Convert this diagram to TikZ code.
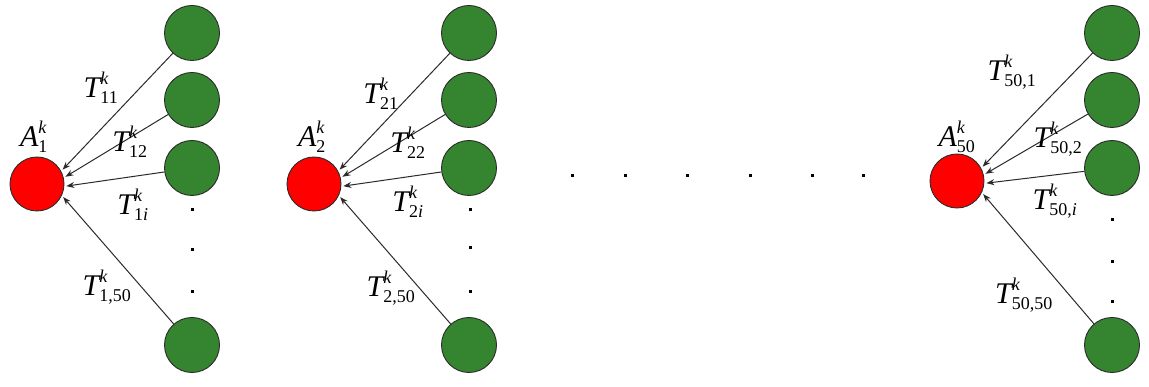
\documentclass[tikz,border=0pt]{standalone}
\usepackage{amsmath}
\usepackage{fontspec}
\setmainfont{Liberation Serif}
\usetikzlibrary{arrows.meta}
\DeclareMathSizes{30}{30}{18}{14}
\definecolor{redc}{HTML}{FF0000}
\definecolor{greenc}{HTML}{358530}
\definecolor{edgec}{HTML}{2B2B2B}
\newcommand{\tlab}[1]{$\textit{T}^{\textit{k}}_{\text{#1}}$}
\newcommand{\alab}[1]{$\textit{A}^{\textit{k}}_{\text{#1}}$}
\tikzset{
  ar/.style={-{Stealth[length=8pt,width=6pt]},edgec,line width=1pt,shorten >=2pt},
  rnd/.style={circle,draw=edgec,fill=redc,line width=0.9pt,minimum size=54pt,inner sep=0pt},
  gnd/.style={circle,draw=edgec,fill=greenc,line width=0.9pt,minimum size=55pt,inner sep=0pt},
  lbl/.style={font=\fontsize{30}{36}\selectfont,inner sep=0pt},
  dt/.style={fill=black,minimum size=3pt,inner sep=0pt}
}
\begin{document}
\begin{tikzpicture}[x=1pt,y=-1pt]
\useasboundingbox[fill=white] (0,0) rectangle (1149,387);
% three groups: red target, four green sources
\foreach \g/\gx/\rx/\ry in {a/192/37/184,b/469/314/184,c/1112/957/181}{
  \node[rnd] (r\g) at (\rx,\ry) {};
  \foreach \n/\gy in {1/33,2/100,3/168,4/345}
    \node[gnd] (\g\n) at (\gx,\gy) {};
  \draw[ar] (\g1) -- (r\g.28);
  \draw[ar] (\g2) -- (r\g.13);
  \draw[ar] (\g3) -- (r\g.-5);
  \draw[ar] (\g4) -- (r\g.-25);
}
% dots
\foreach \dx/\dy [count=\i] in {192/210,192/250,192/292,470/210,470/248,470/292,
  1112/220,1112/262,1112/302,572/176,625/176,687/176,750/176,812/176,863/176}
  \node[dt] (dot\i) at (\dx,\dy) {};
% labels
\node[lbl] (la) at (34,137) {\alab{1}};
\node[lbl] (ta1) at (101,88) {\tlab{11}};
\node[lbl] (ta2) at (130,142) {\tlab{12}};
\node[lbl] (ta3) at (133,205) {\tlab{1\textit{i}}};
\node[lbl] (ta4) at (107,287) {\tlab{1,50}};
\node[lbl] (lb) at (312,137) {\alab{2}};
\node[lbl] (tb1) at (381,94) {\tlab{21}};
\node[lbl] (tb2) at (408,143) {\tlab{22}};
\node[lbl] (tb3) at (408,202) {\tlab{2\textit{i}}};
\node[lbl] (tb4) at (391,288) {\tlab{2,50}};
\node[lbl] (lc) at (957,137) {\alab{50}};
\node[lbl] (tc1) at (1012,72) {\tlab{50,1}};
\node[lbl] (tc2) at (1058,139) {\tlab{50,2}};
\node[lbl] (tc3) at (1055,201) {\tlab{50,\textit{i}}};
\node[lbl] (tc4) at (1024,295) {\tlab{50,50}};
\end{tikzpicture}
\end{document}
